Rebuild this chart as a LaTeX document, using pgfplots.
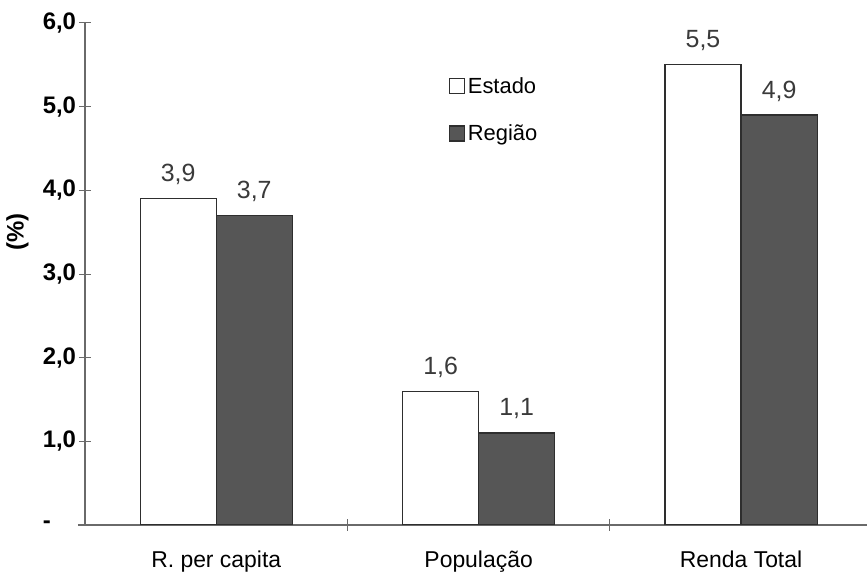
\documentclass[border=0pt]{standalone}
\usepackage{fontspec}
\setmainfont{Liberation Sans}
\usepackage{pgfplots}
\pgfplotsset{compat=1.18}

\definecolor{regiao}{HTML}{565656}
\definecolor{edge}{HTML}{2E2E2E}
\definecolor{axisgray}{HTML}{6A6A6A}
\definecolor{labelgray}{HTML}{3A3A3A}

\begin{document}
\begin{tikzpicture}
\useasboundingbox (0,0) rectangle (867bp,572bp);
\begin{axis}[
  at={(85bp,47bp)}, anchor=south west,
  scale only axis, width=782bp, height=502bp,
  xmin=-0.5, xmax=2.48, ymin=0, ymax=6,
  axis x line*=bottom, axis y line*=left,
  axis line style={axisgray, line width=1.2pt, -},
  x axis line style={shorten <=-7bp},
  ybar, bar width=0.29,
  % category names at the bar groups, tick marks between groups
  xtick={0,1,2},
  xticklabels={R. per capita, População, Renda Total},
  xticklabel style={font=\fontsize{23}{27}\selectfont, anchor=base, yshift=-36bp},
  major x tick style={draw=none},
  extra x ticks={0.5,1.5},
  extra x tick labels={},
  extra x tick style={major x tick style={axisgray, line width=1pt, draw=axisgray}, major tick length=12bp, tick align=center},
  ytick={0,1,2,3,4,5,6},
  yticklabels={-,{1,0},{2,0},{3,0},{4,0},{5,0},{6,0}},
  yticklabel style={font=\fontsize{24}{28}\selectfont\bfseries, anchor=east,
    text width=34bp, align=left, inner sep=0pt, xshift=-2bp},
  major y tick style={axisgray, line width=1pt},
  major tick length=12bp, tick align=center,
  ylabel={(\%)},
  every axis y label/.style={at={(axis description cs:0,0.584)}, rotate=90,
    anchor=center, yshift=67.5bp, font=\fontsize{24}{28}\selectfont\bfseries},
  nodes near coords={\pgfmathprintnumber[fixed,fixed zerofill,precision=1,use comma,assume math mode=true]{\pgfplotspointmeta}},
  nodes near coords style={font=\fontsize{25}{29}\selectfont, labelgray, inner sep=0pt, anchor=base, yshift=17bp},
  legend style={draw=none, fill=none, at={(rel axis cs:0.4655,0.897)}, anchor=north west,
    font=\fontsize{22}{26}\selectfont, inner sep=0pt, row sep=25bp,
    nodes={inner sep=2.5bp}},
  legend cell align=left,
  legend image code/.code={\draw[#1, line width=1.2pt] (0bp,-7.5bp) rectangle (15bp,7.5bp);},
]
\addplot[fill=white, draw=edge, line width=1.2pt, bar shift=-0.145]
  coordinates {(0,3.9) (1,1.6) (2,5.5)};
\addplot[fill=regiao, draw=edge, line width=1.2pt, bar shift=0.145]
  coordinates {(0,3.7) (1,1.1) (2,4.9)};
\legend{Estado, Região}
\end{axis}
\end{tikzpicture}
\end{document}
